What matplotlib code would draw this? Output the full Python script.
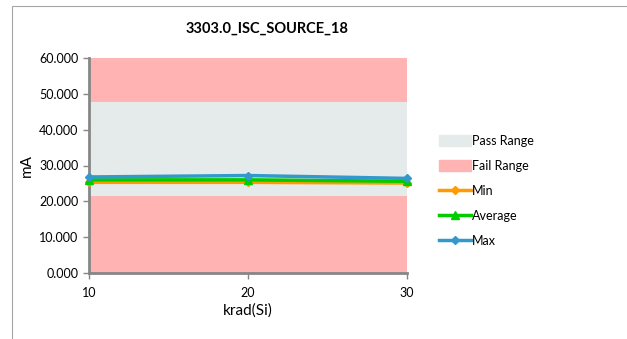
import matplotlib
matplotlib.use("Agg")
import matplotlib.pyplot as plt
from matplotlib.patches import Rectangle
from matplotlib.lines import Line2D

plt.rcParams['font.family'] = ['Lato', 'DejaVu Sans']

krad = [10, 20, 30]
min_vals = [25.3, 25.3, 25.1]
avg_vals = [26.0, 26.0, 25.6]
max_vals = [26.8, 27.2, 26.4]
pass_low = [21.5, 21.5, 21.5]
pass_high = [47.6, 47.6, 47.6]
y_top = [60, 60, 60]
y_ticks = [0, 10, 20, 30, 40, 50, 60]
title = "3303.0_ISC_SOURCE_18"

W, H = 627, 339
fig = plt.figure(figsize=(W/100, H/100), dpi=100)
fig.add_artist(Rectangle((12/W, -0.1), 1.2, (1 - 6/H) + 0.1, transform=fig.transFigure,
                         fill=False, edgecolor='#A6A6A6', linewidth=0.8))

ax = fig.add_axes([89/W, 1 - 273/H, (407-89)/W, (273-58)/H])
fail_c = '#FFB3B3'
pass_c = '#E5EBEB'
ax.fill_between(krad, 0, pass_low, color=fail_c, linewidth=0)
ax.fill_between(krad, pass_low, pass_high, color=pass_c, linewidth=0)
ax.fill_between(krad, pass_high, y_top, color=fail_c, linewidth=0)

ax.plot(krad, min_vals, color='#FF9A00', lw=2.5, marker='D', ms=4.5, zorder=3, clip_on=False)
ax.plot(krad, avg_vals, color='#00CC00', lw=2.5, marker='^', ms=5.5, zorder=4, clip_on=False)
ax.plot(krad, max_vals, color='#3399CC', lw=2.5, marker='D', ms=4.5, zorder=5, clip_on=False)

ax.set_xlim(10, 30)
ax.set_ylim(0, 60)
ax.set_xticks(krad)
ax.set_yticks(y_ticks)
ax.set_yticklabels([f"{v:.3f}" for v in y_ticks])
ax.tick_params(labelsize=9, color='#868686', length=4, width=1)
ax.tick_params(axis='x', pad=6)
for s in ['top', 'right']:
    ax.spines[s].set_visible(False)
for s in ['left', 'bottom']:
    ax.spines[s].set_color('#868686')
    ax.spines[s].set_linewidth(2)
ax.set_xlabel('krad(Si)', fontsize=11, labelpad=3)
ax.set_ylabel('mA', fontsize=11, labelpad=4)
fig.text(267/W, 1 - 29/H, title, ha='center', va='center', fontsize=10.5, fontweight='bold')

handles = [
    Rectangle((0, 0), 1, 1, color=pass_c),
    Rectangle((0, 0), 1, 1, color=fail_c),
    Line2D([], [], color='#FF9A00', lw=2.5, marker='D', ms=4.5),
    Line2D([], [], color='#00CC00', lw=2.5, marker='^', ms=5.5),
    Line2D([], [], color='#3399CC', lw=2.5, marker='D', ms=4.5),
]
labels = ['Pass Range', 'Fail Range', 'Min', 'Average', 'Max']
fig.legend(handles, labels, loc='center left', bbox_to_anchor=(428/W, 1 - 191/H),
           frameon=False, fontsize=9, handlelength=2.5, handletextpad=0.1,
           labelspacing=1.05, handleheight=0.9)

fig.savefig('out.png', dpi=100)
